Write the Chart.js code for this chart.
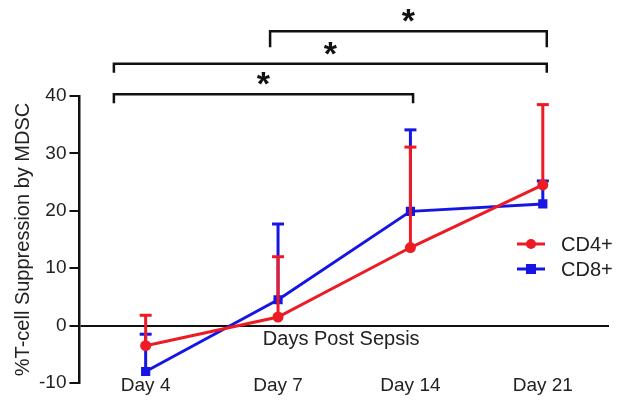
<!DOCTYPE html>
<html>
<head>
<meta charset="utf-8">
<script src="https://cdn.jsdelivr.net/npm/chart.js"></script>
<style>
  html, body { margin: 0; padding: 0; background: #fff; }
  #wrap { width: 630px; height: 401px; }
</style>
</head>
<body>
<div id="wrap"><canvas id="chart" width="630" height="401"></canvas></div>
<script>
const days = ["Day 4", "Day 7", "Day 14", "Day 21"];
const cd4 = [-3.5, 1.5, 13.6, 24.5];
const cd4Err = [5.3, 10.5, 17.5, 14.0];
const cd8 = [-8.0, 4.5, 19.9, 21.2];
const cd8Err = [6.5, 13.2, 14.2, 4.0];
const yTicks = [-10, 0, 10, 20, 30, 40];

// significance brackets: from/to in category index, y in data units
const brackets = [
  { from: -0.24, to: 2.02, y: 40.3, label: "*" },
  { from: -0.24, to: 3.03, y: 45.6, label: "*" },
  { from: 0.94, to: 3.03, y: 51.3, label: "*" }
];

const FONT = "'Liberation Sans', Arial, sans-serif";
const TXT = "#222";

const extras = {
  id: "extras",
  beforeDatasetDraw(chart, args) {
    const ds = chart.data.datasets[args.index];
    const errs = ds.errs;
    const x = chart.scales.x, y = chart.scales.y;
    const c = chart.ctx;
    c.save();
    c.strokeStyle = ds.borderColor;
    c.lineWidth = 3;
    ds.data.forEach((v, i) => {
      const px = x.getPixelForValue(i);
      const top = y.getPixelForValue(v + errs[i]);
      c.beginPath();
      c.moveTo(px, y.getPixelForValue(v));
      c.lineTo(px, top);
      c.stroke();
      c.beginPath();
      c.moveTo(px - 6, top);
      c.lineTo(px + 6, top);
      c.stroke();
    });
    c.restore();
  },
  afterDraw(chart) {
    const x = chart.scales.x, y = chart.scales.y;
    const c = chart.ctx;
    const area = chart.chartArea;
    c.save();
    c.fillStyle = TXT;
    c.textAlign = "center";

    // category labels at the foot of the axis
    c.font = "19px " + FONT;
    c.textBaseline = "middle";
    days.forEach((d, i) => {
      c.fillText(d, x.getPixelForValue(i), y.getPixelForValue(-10) + 3);
    });

    // axis caption under the zero line
    c.font = "20px " + FONT;
    c.textBaseline = "top";
    c.fillText("Days Post Sepsis", (area.left + area.right) / 2 - 3, y.getPixelForValue(0) + 4);

    // brackets
    c.strokeStyle = "#111";
    c.lineWidth = 2.5;
    brackets.forEach((b, i) => {
      const x0 = x.getPixelForValue(b.from), x1 = x.getPixelForValue(b.to);
      const py = y.getPixelForValue(b.y);
      const drop = i === 2 ? 16 : 9;
      c.beginPath();
      c.moveTo(x0, py + drop);
      c.lineTo(x0, py);
      c.lineTo(x1, py);
      c.lineTo(x1, py + drop);
      c.stroke();
      c.fillStyle = "#111";
      c.font = "bold 34px " + FONT;
      c.textBaseline = "alphabetic";
      c.fillText(b.label, (x0 + x1) / 2, py + 1);
    });

    // legend
    c.font = "20px " + FONT;
    c.textAlign = "left";
    c.textBaseline = "middle";
    chart.data.datasets.forEach((ds, i) => {
      const ly = 244 + i * 25;
      const lx = 517;
      c.strokeStyle = ds.borderColor;
      c.lineWidth = 3;
      c.beginPath();
      c.moveTo(lx, ly);
      c.lineTo(lx + 28, ly);
      c.stroke();
      c.fillStyle = ds.borderColor;
      if (ds.pointStyle === "rect") {
        c.fillRect(lx + 9, ly - 5, 10, 10);
      } else {
        c.beginPath();
        c.arc(lx + 14, ly, 5, 0, Math.PI * 2);
        c.fill();
      }
      c.fillStyle = TXT;
      c.fillText(ds.label, lx + 44, ly + 1);
    });
    c.restore();
  }
};

new Chart(document.getElementById("chart"), {
  type: "line",
  data: {
    labels: days,
    datasets: [
      {
        label: "CD4+",
        data: cd4,
        errs: cd4Err,
        borderColor: "#ec1b24",
        backgroundColor: "#ec1b24",
        borderWidth: 3,
        pointStyle: "circle",
        pointRadius: 5.5,
        pointBorderWidth: 0
      },
      {
        label: "CD8+",
        data: cd8,
        errs: cd8Err,
        borderColor: "#1616e2",
        backgroundColor: "#1616e2",
        borderWidth: 3,
        pointStyle: "rect",
        pointRadius: 6.5,
        pointBorderWidth: 0
      }
    ]
  },
  options: {
    responsive: false,
    animation: false,
    layout: { padding: { top: 96, right: 21, bottom: 10, left: 11 } },
    plugins: { legend: { display: false }, tooltip: { enabled: false } },
    scales: {
      x: {
        offset: true,
        grid: { display: false },
        border: { display: false },
        ticks: { display: false }
      },
      y: {
        min: -10,
        max: 40,
        afterBuildTicks(scale) { scale.ticks = yTicks.map(v => ({ value: v })); },
        border: { color: "#111", width: 2.5 },
        grid: {
          color: ctx => ctx.tick && ctx.tick.value === 0 ? "#111" : "rgba(0,0,0,0)",
          lineWidth: 2,
          tickColor: "#111",
          tickLength: 10,
          drawOnChartArea: true
        },
        ticks: { color: TXT, font: { family: FONT, size: 19 }, padding: 3 },
        title: {
          display: true,
          text: "%T-cell Suppression by MDSC",
          color: TXT,
          font: { family: FONT, size: 20 },
          padding: { top: 0, bottom: 1 }
        }
      }
    }
  },
  plugins: [extras]
});
</script>
</body>
</html>
